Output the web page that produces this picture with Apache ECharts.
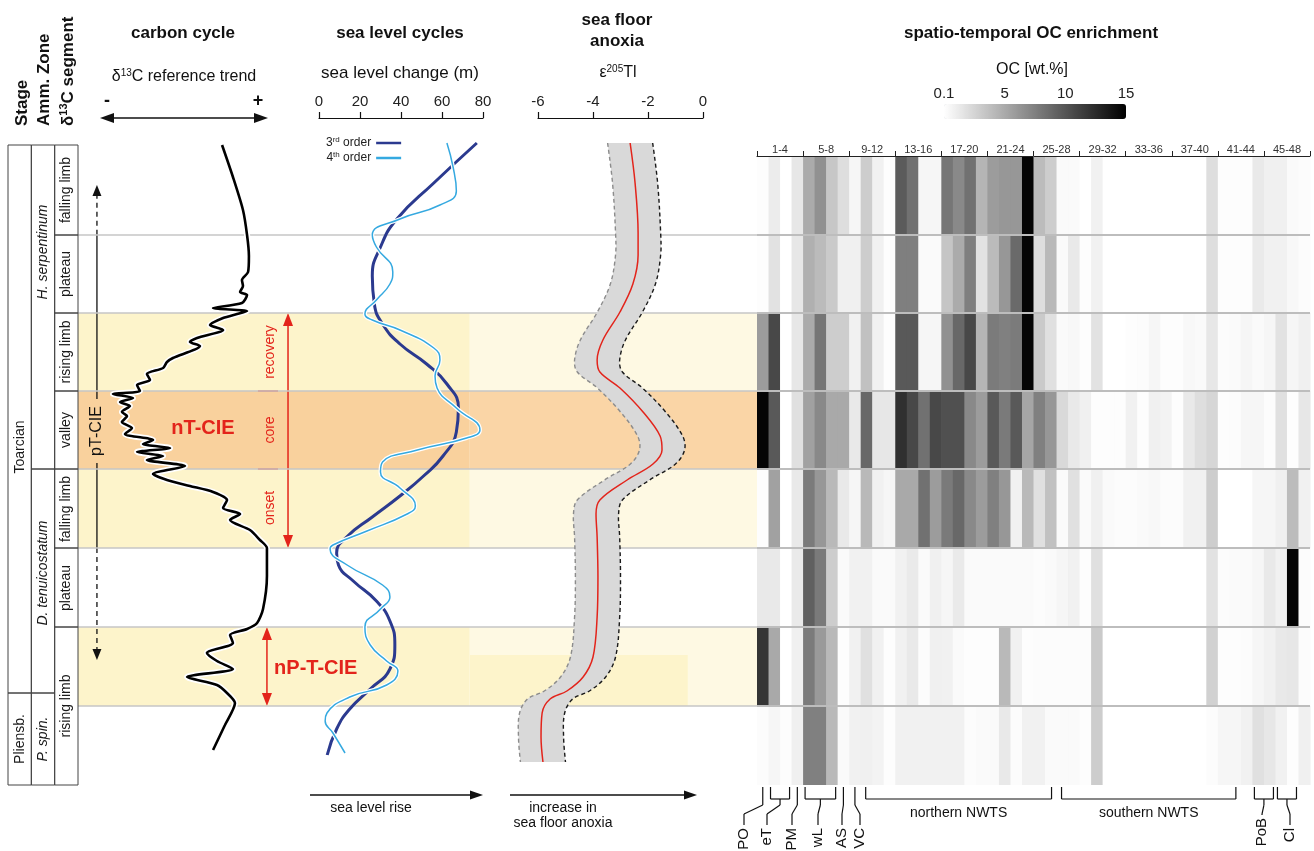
<!DOCTYPE html>
<html><head><meta charset="utf-8">
<script src="https://cdn.jsdelivr.net/npm/echarts@6/dist/echarts.min.js"></script>
<style>html,body{margin:0;padding:0;background:#fff}#c{width:1314px;height:851px}</style>
</head><body><div id="c"></div>
<script>
const FONT = '"Liberation Sans", Arial, Helvetica, sans-serif';

// ---------- DATA ----------
// stratigraphic position (relative units, 0 = base of P. spinatum segment)
const segmentBounds = [0, 79, 158, 237, 316, 394, 472, 550, 628];
const columnTop = 640;

// table cells: [label, base, top, label centre]
const stageCells = [['Toarcian', 92, 640, 338], ['Pliensb.', 0, 92, 46]];
const zoneCells = [['H. serpentinum', 316, 640, 533], ['D. tenuicostatum', 92, 316, 212], ['P. spin.', 0, 92, 46]];
const segmentCells = [['falling limb', 550, 640, 595], ['plateau', 472, 550, 511], ['rising limb', 394, 472, 433], ['valley', 316, 394, 355],
  ['falling limb', 237, 316, 276], ['plateau', 158, 237, 197], ['rising limb', 0, 158, 79]];

// highlighted segments (index of segment counted from the base)
const yellowSegments = [1, 3, 5];
const orangeSegments = [4];

// δ13C reference trend: [relative δ13C (0 = "-", 100 = "+"), position]
const carbonTrend = [[71.8,640],[78.2,608],[84.1,575],[86.5,550],[87.6,529],[87.1,513],[83.5,505],[84.1,499],[82.4,493],[86.5,490],[83.5,482],[66.5,477],[86.5,474],[80.6,471],[72.4,467],[64.7,460],[72.4,455],[57.1,447],[52.9,443],[58.8,439],[42.9,427],[39.4,423],[37.1,417],[27.6,411],[29.4,405],[21.8,400],[23.5,394],[7.6,391],[19.4,387],[11.8,383],[17.6,379],[12.9,373],[15.9,369],[12.9,363],[18.8,357],[14.7,351],[31.2,345],[25.3,341],[41.2,337],[21.8,333],[37.1,329],[27.6,325],[50.0,319],[31.2,311],[39.4,305],[52.9,299],[66.5,293],[74.7,285],[72.4,277],[82.4,271],[76.5,265],[88.2,255],[94.1,245],[98.2,237],[98.2,209],[95.9,176],[92.4,162],[86.5,156],[76.5,150],[78.2,142],[62.9,132],[68.8,124],[78.2,116],[51.2,108],[68.8,100],[74.7,92],[79.4,82],[73.5,60],[66.5,35]];

// sea level change (m): [value, position]
const seaLevel3rd = [[77,642],[56,602],[38,566],[30,538],[26,509],[27,481],[31,461],[39.5,441],[52.5,421],[62.4,401],[68,377],[67,353],[60.5,329],[51,309],[39.5,289],[26,268],[13.5,248],[8.6,232],[9.5,220],[16.7,204],[28,184],[34.6,164],[37,140],[34.6,116],[25,96],[15,76],[8.6,56],[4,30]];
const seaLevel4th = [[62.4,642],[65.4,618],[67,594],[59,580],[39.5,566],[26,550],[28,538],[36,513],[34.6,501],[28,485],[22.4,471],[26,465],[39.5,455],[56,437],[59,425],[56.6,409],[57.6,397],[67,377],[78.5,355],[72,347],[48,335],[31,323],[30,313],[39.5,297],[47,279],[43,271],[23.4,254],[6.8,240],[5.4,236],[13.7,220],[31,200],[34.6,188],[30,176],[22.4,158],[25,140],[33,124],[38.5,114],[33,100],[15,88],[3.9,72],[3,64],[6.8,52],[12.7,32]];
const seaLevelTicks = [0, 20, 40, 60, 80];

// ε205Tl: [value, position], envelope half width
const thallium = [[-2.65,642],[-2.47,602],[-2.36,552],[-2.36,530],[-2.55,501],[-3.02,473],[-3.64,445],[-3.85,425],[-3.75,413],[-3.02,397],[-2.18,373],[-1.56,349],[-1.49,335],[-1.82,321],[-2.76,305],[-3.75,285],[-3.89,271],[-3.85,248],[-3.82,208],[-3.85,168],[-4.0,128],[-4.36,108],[-4.95,94],[-5.56,86],[-5.85,72],[-5.89,48],[-5.82,23]];
const thalliumUncertainty = 0.82;

// OC enrichment (wt.%), 48 locations, rows from top segment to base
const ocFallingLimbHs = [0.2,1.2,0.1,1.5,5.0,6.5,3.4,2.0,0.6,3.0,0.9,0.2,9.7,8.4,0.6,0.6,8.1,7.0,8.4,4.4,5.9,6.2,6.2,14.7,4.0,3.0,0.4,0.4,0.1,0.9,0.1,0.1,0.1,0.1,0.1,0.1,0.1,0.1,0.1,2.0,0.2,0.2,0.2,1.4,1.0,1.0,0.4,0.3];
const ocPlateauHs = [0.2,1.8,0.1,1.5,4.7,4.1,3.2,1.0,1.0,3.0,0.9,0.2,7.6,7.6,0.4,0.4,3.5,5.0,7.6,1.8,4.1,6.2,8.8,14.7,2.0,4.2,0.4,1.4,0.2,0.9,0.1,0.1,0.1,0.1,0.1,0.1,0.1,0.1,0.1,2.0,0.2,0.2,0.2,1.3,0.9,0.9,0.5,0.3];
const ocRisingLimbHs = [5.9,10.8,0.1,1.5,5.0,8.1,3.0,3.0,0.9,3.7,0.9,0.2,9.8,9.8,0.6,0.6,6.5,8.9,10.8,4.4,7.8,7.5,7.8,14.7,3.2,1.9,0.4,0.5,0.2,1.8,0.1,0.1,0.2,0.3,0.6,0.2,0.2,0.5,0.4,1.5,0.3,0.4,0.6,0.4,0.6,1.8,0.6,1.0];
const ocValley = [14.7,9.8,0.1,1.9,5.6,7.0,5.1,5.1,1.4,8.9,1.5,1.5,12.2,10.8,8.4,10.8,10.3,10.3,7.0,5.9,9.8,7.9,9.8,5.3,7.5,6.2,2.3,1.4,1.0,0.2,0.2,0.2,0.9,0.2,1.0,0.8,0.2,1.4,2.0,2.5,0.2,0.3,0.6,0.6,0.3,1.9,0.2,1.5];
const ocFallingLimbDt = [0.2,5.6,0.1,1.4,7.8,6.2,4.2,1.4,0.6,4.2,0.9,0.6,5.1,5.1,8.4,5.9,7.9,8.9,7.0,5.9,7.5,6.2,0.9,4.2,1.9,3.7,0.4,1.9,0.4,1.0,0.4,0.3,0.3,0.4,0.5,0.3,0.3,0.9,0.9,3.0,0.1,0.1,0.1,0.6,0.6,1.0,4.0,0.9];
const ocPlateauDt = [1.4,1.4,0.1,1.3,9.4,7.9,3.0,0.4,0.9,0.9,0.4,0.4,0.9,1.3,0.4,1.0,0.6,1.3,0.4,0.4,0.4,0.4,0.4,0.4,0.3,0.4,0.6,0.9,0.2,1.9,0.1,0.1,0.1,0.1,0.1,0.1,0.1,0.1,0.1,1.8,0.3,0.4,0.4,0.6,1.4,0.9,14.7,0.3];
const ocRisingLimbDt = [11.9,5.1,0.1,1.0,7.8,6.0,4.2,0.2,0.9,1.9,0.9,0.2,0.9,1.4,0.3,1.0,0.9,0.4,0.2,0.2,0.2,4.2,0.9,0.2,0.3,0.3,0.3,0.3,0.3,3.2,0.1,0.1,0.1,0.1,0.1,0.1,0.1,0.1,0.1,2.8,0.2,0.2,0.3,0.6,0.9,1.4,1.5,0.3];
const ocRisingLimbPs = [0.3,0.6,0.2,1.0,7.5,7.5,4.2,0.4,0.9,1.0,0.8,0.2,0.9,0.9,0.9,0.9,0.9,0.9,0.3,0.4,0.4,1.4,0.3,0.9,0.9,0.4,0.4,0.4,0.2,3.0,0.1,0.1,0.1,0.1,0.1,0.1,0.1,0.1,0.1,0.3,0.6,0.6,0.9,1.9,1.5,0.9,0.2,1.0];
const ocRows = [ocFallingLimbHs, ocPlateauHs, ocRisingLimbHs, ocValley, ocFallingLimbDt, ocPlateauDt, ocRisingLimbDt, ocRisingLimbPs];
const locationGroupLabels = ['1-4','5-8','9-12','13-16','17-20','21-24','25-28','29-32','33-36','37-40','41-44','45-48'];
const ocScaleTicks = ['0.1', '5', '10', '15'];
// site groups below the heatmap: [label, first column, last column + 1]
const siteGroups = [['PO',0,1],['eT',1,3],['PM',3,4],['wL',4,7],['AS',7,8],['VC',8,9],['northern NWTS',9,26],['southern NWTS',26,42],['PoB',43,45],['Cl',45,47]];

// ---------- BUILD ----------
const chart = echarts.init(document.getElementById('c'));
const TOP = 145, H = 640;
const yAx = (gi) => ({type:'value', gridIndex:gi, min:0, max:columnTop, show:false});

const heatData = [];
ocRows.forEach((row, r) => row.forEach((v, k) => heatData.push([k, segmentBounds[7 - r], segmentBounds[8 - r], v])));

const bandRects = [];
yellowSegments.forEach(s => { bandRects.push([0, 57.7, segmentBounds[s], segmentBounds[s+1], 0]); bandRects.push([57.7, 100, segmentBounds[s], segmentBounds[s+1], 1]); });
orangeSegments.forEach(s => { bandRects.push([0, 57.7, segmentBounds[s], segmentBounds[s+1], 2]); bandRects.push([57.7, 100, segmentBounds[s], segmentBounds[s+1], 3]); });
bandRects.push([57.7, 89.8, segmentBounds[1], 130, 0]);
const bandColors = ['#fdf4cb', '#fef9e3', '#f9d19d', '#fad5a6'];

const tableData = [];
const tableLabels = [];
[stageCells, zoneCells, segmentCells].forEach((cells, col) => cells.forEach(c => { tableData.push([col, c[1], c[2], tableLabels.length, c[3]]); tableLabels.push(c[0]); }));

const internal = segmentBounds.slice(1, 8);
const topAxis = (gi, min, max, interval) => ({type:'value', gridIndex:gi, min, max, interval, position:'top', offset:27,
  axisLine:{onZero:false, lineStyle:{color:'#111', width:1.2}}, axisTick:{show:true, length:6, lineStyle:{color:'#111', width:1.2}},
  axisLabel:{color:'#222', fontSize:15, margin:9}, splitLine:{show:false}});

const option = {
  animation: false,
  textStyle: {fontFamily: FONT},
  grid: [
    {left:78, width:679, top:TOP, height:H},   // 0 background bands
    {left:100, width:170, top:TOP, height:H},  // 1 carbon
    {left:319, width:164, top:TOP, height:H},  // 2 sea level
    {left:538, width:165, top:TOP, height:H},  // 3 thallium
    {left:757, width:553, top:TOP, height:H},  // 4 heatmap
    {left:757, width:553, top:156, height:629},// 5 location groups axis
    {left:8, width:70, top:TOP, height:H},     // 6 table
    {left:944, width:182, top:104, height:15}  // 7 OC scale labels
  ],
  xAxis: [
    {type:'value', gridIndex:0, min:0, max:100, show:false},
    {type:'value', gridIndex:1, min:0, max:100, show:false},
    topAxis(2, seaLevelTicks[0], seaLevelTicks[seaLevelTicks.length-1], 20),
    topAxis(3, -6, 0, 2),
    {type:'value', gridIndex:4, min:0, max:48, show:false},
    {type:'value', gridIndex:5, min:0, max:48, position:'top',
      axisLine:{onZero:false, lineStyle:{color:'#222', width:1}},
      axisTick:{show:true, length:5, customValues:locationGroupLabels.map((_, i) => i*4).concat([48]), lineStyle:{color:'#222'}},
      axisLabel:{color:'#333', fontSize:11, margin:1, customValues:locationGroupLabels.map((_, i) => i*4+2), formatter:(v)=>locationGroupLabels[(v-2)/4]},
      splitLine:{show:false}},
    {type:'value', gridIndex:6, min:0, max:3, show:false},
    {type:'value', gridIndex:7, min:0, max:15, interval:5, position:'top',
      axisLine:{show:false, onZero:false}, axisTick:{show:false}, splitLine:{show:false},
      axisLabel:{color:'#222', fontSize:15, margin:3, formatter:(v)=>ocScaleTicks[v/5]}}
  ],
  yAxis: [yAx(0), yAx(1), yAx(2), yAx(3), yAx(4), {type:'value', gridIndex:5, min:0, max:1, show:false}, yAx(6), {type:'value', gridIndex:7, min:0, max:1, show:false}],
  visualMap: {
    type:'continuous', min:0.1, max:15, seriesIndex:9, dimension:3, calculable:false, hoverLink:false,
    inRange:{color:['#ffffff', '#000000']}, orient:'horizontal', left:944, top:104, itemWidth:15, itemHeight:182, padding:0, text:null
  },
  legend: {
    data:['3rd order', '4th order'], orient:'vertical', left:321, top:131, itemWidth:25, itemHeight:2.5, itemGap:2, align:'right', icon:'rect',
    selectedMode:false, textStyle:{fontSize:12, color:'#222', fontFamily:FONT, rich:{s:{fontSize:8, padding:[0,0,6,0], color:'#222'}}},
    formatter:(n)=>n.replace(/^(\d)(rd|th)/, '$1{s|$2}')
  },
  series: [
    { // 0 background bands
      type:'custom', xAxisIndex:0, yAxisIndex:0, z:0, silent:true, clip:false, data:bandRects,
      renderItem:(p, api) => { const a = api.coord([api.value(0), api.value(3)]), b = api.coord([api.value(1), api.value(2)]);
        return {type:'rect', shape:{x:a[0], y:a[1], width:b[0]-a[0], height:b[1]-a[1]}, style:{fill:bandColors[api.value(4)]}}; }
    },
    { // 1 segment boundaries (left part)
      type:'custom', xAxisIndex:0, yAxisIndex:0, z:1, silent:true, clip:false, data:internal.map(v => [v]),
      renderItem:(p, api) => { const a = api.coord([0, api.value(0)]), b = api.coord([100, api.value(0)]);
        return {type:'line', shape:{x1:a[0], y1:a[1], x2:b[0], y2:b[1]}, style:{stroke:'#c6c6c6', lineWidth:1.5}}; }
    },
    { type:'line', xAxisIndex:1, yAxisIndex:1, data:carbonTrend, symbol:'none', smooth:0.25, clip:false, silent:true,
      lineStyle:{color:'#ffffff', width:6}, z:3 },
    { name:'δ13C', type:'line', xAxisIndex:1, yAxisIndex:1, data:carbonTrend, symbol:'none', smooth:0.25, clip:false, silent:true,
      lineStyle:{color:'#000000', width:2.6}, z:4 },
    { name:'3rd order', type:'line', xAxisIndex:2, yAxisIndex:2, data:seaLevel3rd, symbol:'none', smooth:0.5, clip:false, silent:true,
      lineStyle:{color:'#2b3a8f', width:3}, itemStyle:{color:'#2b3a8f'}, z:3 },
    { type:'line', xAxisIndex:2, yAxisIndex:2, data:seaLevel4th, symbol:'none', smooth:0.5, clip:false, silent:true,
      lineStyle:{color:'#ffffff', width:4}, z:4 },
    { name:'4th order', type:'line', xAxisIndex:2, yAxisIndex:2, data:seaLevel4th, symbol:'none', smooth:0.5, clip:false, silent:true,
      lineStyle:{color:'#35a9e0', width:1.5}, itemStyle:{color:'#35a9e0'}, z:5 },
    { // 7 thallium envelope
      type:'custom', xAxisIndex:3, yAxisIndex:3, z:3, silent:true, clip:false, data:[[0]],
      renderItem:(p, api) => {
        const left = thallium.map(d => api.coord([d[0] - thalliumUncertainty, d[1]]));
        const right = thallium.map(d => api.coord([d[0] + thalliumUncertainty, d[1]]));
        const n = left.length - 1;
        const poly = [left[0]].concat(left, [left[n], right[n]], right.slice().reverse(), [right[0]]);
        return {type:'group', children:[
          {type:'polygon', shape:{points:poly, smooth:0.35}, style:{fill:'#d9d9d9'}},
          {type:'polyline', shape:{points:left, smooth:0.35}, style:{stroke:'#8c8c8c', lineWidth:1.4, lineDash:[4,3], fill:null}},
          {type:'polyline', shape:{points:right, smooth:0.35}, style:{stroke:'#1a1a1a', lineWidth:1.4, lineDash:[4,3], fill:null}}
        ]};
      }
    },
    { name:'ε205Tl', type:'line', xAxisIndex:3, yAxisIndex:3, data:thallium, symbol:'none', smooth:0.35, clip:false, silent:true,
      lineStyle:{color:'#e3241b', width:1.5}, z:4 },
    { // 9 OC heatmap
      type:'custom', xAxisIndex:4, yAxisIndex:4, z:2, silent:true, data:heatData, dimensions:['col','base','top','oc'],
      encode:{x:0, y:[1,2]},
      renderItem:(p, api) => { const a = api.coord([api.value(0), api.value(2)]), b = api.coord([api.value(0)+1, api.value(1)]);
        return {type:'rect', shape:{x:a[0], y:a[1], width:b[0]-a[0]+0.6, height:b[1]-a[1]}, style:{fill:api.visual('color')}}; }
    },
    { // 10 heatmap row separators
      type:'custom', xAxisIndex:4, yAxisIndex:4, z:3, silent:true, clip:false, data:internal.map(v => [v]),
      renderItem:(p, api) => { const a = api.coord([0, api.value(0)]), b = api.coord([48, api.value(0)]);
        return {type:'line', shape:{x1:a[0], y1:a[1], x2:b[0], y2:b[1]}, style:{stroke:'#bdbdbd', lineWidth:2}}; }
    },
    { // 11 stratigraphic table
      type:'custom', xAxisIndex:6, yAxisIndex:6, z:2, silent:true, clip:false, data:tableData,
      renderItem:(p, api) => {
        const col = api.value(0), a = api.coord([col, api.value(2)]), b = api.coord([col+1, api.value(1)]);
        const c = api.coord([col + 0.5, api.value(4)]);
        const label = tableLabels[api.value(3)];
        const italic = col === 1 ? 'italic ' : '';
        return {type:'group', children:[
          {type:'rect', shape:{x:a[0], y:a[1], width:b[0]-a[0], height:b[1]-a[1]}, style:{fill:null, stroke:'#444', lineWidth:1}},
          {type:'text', x:c[0], y:c[1], rotation:Math.PI/2,
            style:{text:label, align:'center', verticalAlign:'middle', font:italic + '14px ' + FONT, fill:'#1a1a1a'}}
        ]};
      }
    }
  ]
};
chart.setOption(option);

// ---------- ANNOTATIONS ----------
const G = [];
const txt = (x, y, t, font, o) => G.push(Object.assign({type:'text', x, y, silent:true,
  style:Object.assign({text:t, font, fill:'#111', align:'center', verticalAlign:'middle'}, (o && o.style) || {})}, (o && o.el) || {}));
function arrow(x1, y1, x2, y2, o) {
  const color = o.color || '#111', w = o.width || 1.5, hl = o.hl || 12, hw = o.hw || 5;
  const len = Math.hypot(x2-x1, y2-y1), ux = (x2-x1)/len, uy = (y2-y1)/len;
  const head = (tx, ty, dx, dy) => ({type:'polygon', silent:true, shape:{points:[[tx,ty],[tx-dx*hl-dy*hw, ty-dy*hl+dx*hw],[tx-dx*hl+dy*hw, ty-dy*hl-dx*hw]]}, style:{fill:color}});
  let sx = x1, sy = y1, ex = x2, ey = y2;
  if (o.h1) { G.push(head(x1, y1, -ux, -uy)); sx = x1 + ux*hl*0.8; sy = y1 + uy*hl*0.8; }
  if (o.h2) { G.push(head(x2, y2, ux, uy)); ex = x2 - ux*hl*0.8; ey = y2 - uy*hl*0.8; }
  G.push({type:'line', silent:true, shape:{x1:sx, y1:sy, x2:ex, y2:ey}, style:{stroke:color, lineWidth:w, lineDash:o.dash || null}});
}
const line = (x1, y1, x2, y2, color, w) => G.push({type:'line', silent:true, shape:{x1, y1, x2, y2}, style:{stroke:color || '#111', lineWidth:w || 1.2}});
const C = (x, L) => chart.convertToPixel({gridIndex:1}, [x, L]);
const HX = (k) => chart.convertToPixel({gridIndex:4}, [k, 0])[0];
const sup = {s:{fontSize:10, padding:[0,0,8,0]}};

// headers
const hdr = 'bold 17px ' + FONT;
txt(22, 126, 'Stage', hdr, {style:{align:'left'}, el:{rotation:Math.PI/2}});
txt(44, 126, 'Amm. Zone', hdr, {style:{align:'left'}, el:{rotation:Math.PI/2}});
txt(68, 126, 'δ{s|13}C segment', hdr, {style:{align:'left', rich:{s:{fontSize:11, fontWeight:'bold', padding:[0,0,8,0]}}}, el:{rotation:Math.PI/2}});
txt(183, 33, 'carbon cycle', hdr);
txt(400, 33, 'sea level cycles', hdr);
txt(617, 20, 'sea floor', hdr);
txt(617, 41, 'anoxia', hdr);
txt(1031, 33, 'spatio-temporal OC enrichment', hdr);
txt(184, 77, 'δ{s|13}C reference trend', '16px ' + FONT, {style:{rich:sup}});
txt(400, 73, 'sea level change (m)', '17px ' + FONT);
txt(618, 73, 'ε{s|205}Tl', '16px ' + FONT, {style:{rich:sup}});
txt(1032, 70, 'OC [wt.%]', '16px ' + FONT);
txt(107, 101, '-', 'bold 18px ' + FONT);
txt(258, 101, '+', 'bold 18px ' + FONT);
arrow(100, 118, 268, 118, {h1:true, h2:true, hl:14, hw:5, width:1.6});

// bottom arrows
arrow(310, 795, 483, 795, {h2:true, hl:13, hw:4.5, width:1.5});
txt(371, 808, 'sea level rise', '14px ' + FONT);
arrow(510, 795, 697, 795, {h2:true, hl:13, hw:4.5, width:1.5});
txt(563, 808, 'increase in', '14px ' + FONT);
txt(563, 823, 'sea floor anoxia', '14px ' + FONT);

// pT-CIE arrow
const pX = -1.8;
let a = C(pX, 600), b = C(pX, 550);
arrow(a[0], a[1], b[0], b[1], {h1:true, dash:[5,4], hl:11, hw:4.5, width:1.3});
a = C(pX, 550); b = C(pX, 386); line(a[0], a[1], b[0], b[1], '#111', 1.3);
a = C(pX, 322); b = C(pX, 237); line(a[0], a[1], b[0], b[1], '#111', 1.3);
a = C(pX, 237); b = C(pX, 125);
arrow(a[0], a[1], b[0], b[1], {h2:true, dash:[5,4], hl:11, hw:4.5, width:1.3});
a = C(pX, 354); txt(a[0], a[1], 'pT-CIE', '16px ' + FONT, {el:{rotation:Math.PI/2}});

// nT-CIE phases
const RED = '#e3241b';
a = C(110.6, 472); b = C(110.6, 237);
arrow(a[0], a[1], b[0], b[1], {h1:true, h2:true, color:RED, hl:13, hw:5, width:1.5});
[394, 316].forEach(L => { const p = C(92.9, L), q = C(104.7, L); line(p[0], p[1], q[0], q[1], RED, 1.3); });
a = C(100, 433); txt(a[0], a[1], 'recovery', '14px ' + FONT, {style:{fill:RED}, el:{rotation:Math.PI/2}});
a = C(100, 355); txt(a[0], a[1], 'core', '14px ' + FONT, {style:{fill:RED}, el:{rotation:Math.PI/2}});
a = C(100, 277); txt(a[0], a[1], 'onset', '14px ' + FONT, {style:{fill:RED}, el:{rotation:Math.PI/2}});
a = C(60.6, 357); txt(a[0], a[1], 'nT-CIE', 'bold 20px ' + FONT, {style:{fill:RED}});
a = C(98.2, 158); b = C(98.2, 79);
arrow(a[0], a[1], b[0], b[1], {h1:true, h2:true, color:RED, hl:13, hw:5, width:1.5});
a = C(102.4, 117); txt(a[0], a[1], 'nP-T-CIE', 'bold 20px ' + FONT, {style:{fill:RED, align:'left'}});

// site groups under the heatmap
const labelX = {PO:744, eT:767, PM:792, wL:818, AS:842, VC:860, PoB:1262, Cl:1290};
const labelTop = {PoB:818};
siteGroups.forEach(([name, s, e]) => {
  const x0 = HX(s), x1 = HX(e), mid = (x0 + x1) / 2, inset = e - s > 4 ? 5 : 2;
  if (e - s > 1) {
    line(x0 + inset, 787, x0 + inset, 799); line(x1 - inset, 787, x1 - inset, 799); line(x0 + inset, 799, x1 - inset, 799);
  } else {
    line(mid, 787, mid, 799);
  }
  if (labelX[name] !== undefined) {
    const lx = labelX[name], top = labelTop[name] || 828;
    line(mid, 799, mid, 805); line(mid, 805, lx, Math.min(814, top - 4)); line(lx, Math.min(814, top - 4), lx, top - 3);
    txt(lx, top, name, '15px ' + FONT, {style:{align:'right'}, el:{rotation:Math.PI/2}});
  } else {
    txt(mid, 813, name, '14px ' + FONT);
  }
});

chart.setOption({graphic: G});
</script>
</body></html>
